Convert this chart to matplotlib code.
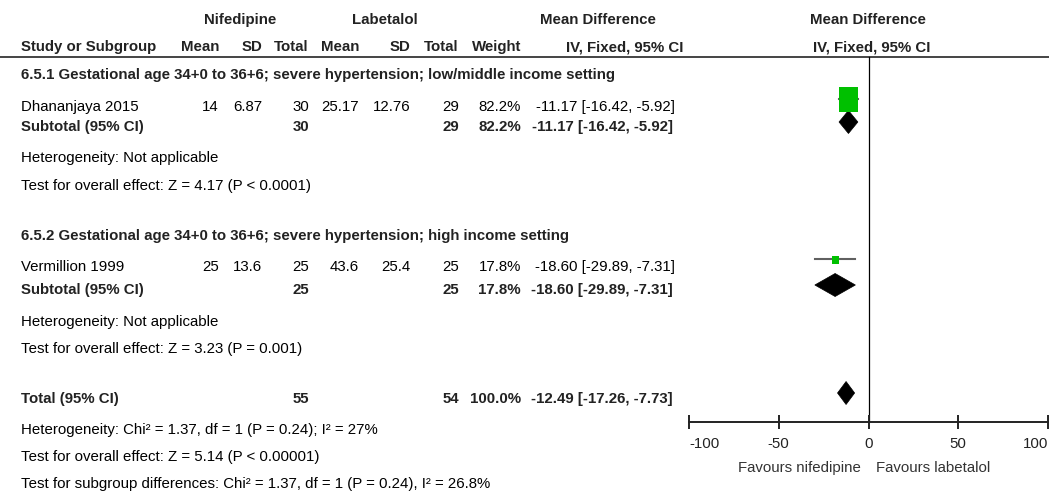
import matplotlib
matplotlib.use("Agg")
from matplotlib import pyplot as plt
from matplotlib.patches import Rectangle, Polygon

plt.rcParams['font.family'] = ['Liberation Sans', 'DejaVu Sans']

# study level data
studies = ["Dhananjaya 2015", "Vermillion 1999"]
nif_mean = [14, 25]
nif_sd = [6.87, 13.6]
nif_n = [30, 25]
lab_mean = [25.17, 43.6]
lab_sd = [12.76, 25.4]
lab_n = [29, 25]
weight = [82.2, 17.8]
md = [-11.17, -18.60]
ci_lo = [-16.42, -29.89]
ci_hi = [-5.92, -7.31]

# subgroup titles and notes
groups = ["6.5.1 Gestational age 34+0 to 36+6; severe hypertension; low/middle income setting",
          "6.5.2 Gestational age 34+0 to 36+6; severe hypertension; high income setting"]
group_het = ["Heterogeneity: Not applicable", "Heterogeneity: Not applicable"]
group_test = ["Test for overall effect: Z = 4.17 (P < 0.0001)",
              "Test for overall effect: Z = 3.23 (P = 0.001)"]

# pooled result
total_nif_n = 55
total_lab_n = 54
total_weight = 100.0
total_md = -12.49
total_lo = -17.26
total_hi = -7.73
total_notes = ["Heterogeneity: Chi\u00b2 = 1.37, df = 1 (P = 0.24); I\u00b2 = 27%",
               "Test for overall effect: Z = 5.14 (P < 0.00001)",
               "Test for subgroup differences: Chi\u00b2 = 1.37, df = 1 (P = 0.24), I\u00b2 = 26.8%"]

ticks = [-100, -50, 0, 50, 100]

W, H = 1049, 491
FS = 10.8
DARK = '#222222'
GREEN = '#00c000'

fig = plt.figure(figsize=(W / 100, H / 100), dpi=100)
ax = fig.add_axes([0, 0, 1, 1])
ax.set_xlim(0, W)
ax.set_ylim(H, 0)
ax.axis('off')

# forest panel, x in mean difference units, y in rows (pixels)
fa = fig.add_axes([689 / W, 0, (1048 - 689) / W, 1])
fa.set_xlim(-100, 100)
fa.set_ylim(H, 0)
fa.axis('off')
px = 200 / (1048 - 689)   # data units per pixel


def put(x, y, s, ha='left', bold=False, color='black'):
    ax.text(x, y + 5.3, s, ha=ha, va='baseline', fontsize=FS,
            fontweight='bold' if bold else 'normal', color=color)


def fmt(v):
    return f"{v:g}"


def ci_text(m, lo, hi):
    return f"{m:.2f} [{lo:.2f}, {hi:.2f}]"


def diamond(y, m, lo, hi, h=23):
    fa.add_patch(Polygon([(lo, y), (m, y - h / 2), (hi, y), (m, y + h / 2)],
                         closed=True, facecolor='black', edgecolor='black', lw=0.5))


# column headers
put(240, 19, "Nifedipine", ha='center', bold=True, color=DARK)
put(385, 19, "Labetalol", ha='center', bold=True, color=DARK)
put(598, 19, "Mean Difference", ha='center', bold=True, color=DARK)
put(868, 19, "Mean Difference", ha='center', bold=True, color=DARK)

cols = [(21, "Study or Subgroup", 'left'), (219, "Mean", 'right'), (262, "SD", 'right'),
        (309, "Total", 'right'), (321, "Mean", 'left'), (410, "SD", 'right'),
        (459, "Total", 'right'), (521, "Weight", 'right'), (683, "IV, Fixed, 95% CI", 'right')]
for x, s, ha in cols:
    put(x, 46, s, ha=ha, bold=True, color=DARK)
put(872, 46, "IV, Fixed, 95% CI", ha='center', bold=True, color=DARK)
ax.plot([0, W], [57, 57], color='#444444', lw=1.4)

rows_title = [74, 234.5]
rows_study = [105.5, 266]
rows_sub = [126, 289]
rows_het = [157, 320.5]
rows_test = [185, 347.5]

for i in range(len(studies)):
    put(21, rows_title[i], groups[i], bold=True, color=DARK)

    y = rows_study[i]
    put(21, y, studies[i])
    put(219, y, fmt(nif_mean[i]), ha='right')
    put(262, y, fmt(nif_sd[i]), ha='right')
    put(309, y, fmt(nif_n[i]), ha='right')
    put(359, y, fmt(lab_mean[i]), ha='right')
    put(410, y, fmt(lab_sd[i]), ha='right')
    put(459, y, fmt(lab_n[i]), ha='right')
    put(521, y, f"{weight[i]:.1f}%", ha='right')
    put(675, y, ci_text(md[i], ci_lo[i], ci_hi[i]), ha='right')

    # confidence interval and weighted square
    ym = y - 7
    fa.plot([ci_lo[i], ci_hi[i]], [ym, ym], color='#606060', lw=1.5, zorder=2)
    wpx = 3.3 + 0.2 * weight[i]
    hpx = wpx * 1.3
    fa.add_patch(Rectangle((md[i] - wpx * px / 2, ym - hpx / 2 + 1), wpx * px, hpx,
                           facecolor=GREEN, edgecolor='none', zorder=3))

    ys = rows_sub[i]
    put(21, ys, "Subtotal (95% CI)", bold=True, color=DARK)
    put(309, ys, fmt(nif_n[i]), ha='right', bold=True, color=DARK)
    put(459, ys, fmt(lab_n[i]), ha='right', bold=True, color=DARK)
    put(521, ys, f"{weight[i]:.1f}%", ha='right', bold=True, color=DARK)
    put(673, ys, ci_text(md[i], ci_lo[i], ci_hi[i]), ha='right', bold=True, color=DARK)
    diamond(ys - 4, md[i], ci_lo[i], ci_hi[i])

    put(21, rows_het[i], group_het[i])
    put(21, rows_test[i], group_test[i])

# overall
yt = 398
put(21, yt, "Total (95% CI)", bold=True, color=DARK)
put(309, yt, fmt(total_nif_n), ha='right', bold=True, color=DARK)
put(459, yt, fmt(total_lab_n), ha='right', bold=True, color=DARK)
put(521, yt, f"{total_weight:.1f}%", ha='right', bold=True, color=DARK)
put(673, yt, ci_text(total_md, total_lo, total_hi), ha='right', bold=True, color=DARK)
diamond(yt - 5, total_md, total_lo, total_hi)

for y, s in zip([429, 456, 483], total_notes):
    put(21, y, s)

# line of no effect and x axis
y_axis = 422
fa.plot([0, 0], [57, y_axis], color='black', lw=0.9)
fa.plot([ticks[0], ticks[-1]], [y_axis, y_axis], color='#222222', lw=1.4, clip_on=False)
fa.vlines(ticks, y_axis - 7, y_axis + 7, color='#222222', lw=1.4, clip_on=False)
for t in ticks:
    ha = 'left' if t == ticks[0] else ('right' if t == ticks[-1] else 'center')
    fa.text(t, 448.3, fmt(t), ha=ha, va='baseline', fontsize=FS, color='#222222', clip_on=False)
fa.text(-4, 472.3, "Favours nifedipine", ha='right', va='baseline', fontsize=FS, color='#333333')
fa.text(4, 472.3, "Favours labetalol", ha='left', va='baseline', fontsize=FS, color='#333333')

fig.savefig('out.png', dpi=100)
